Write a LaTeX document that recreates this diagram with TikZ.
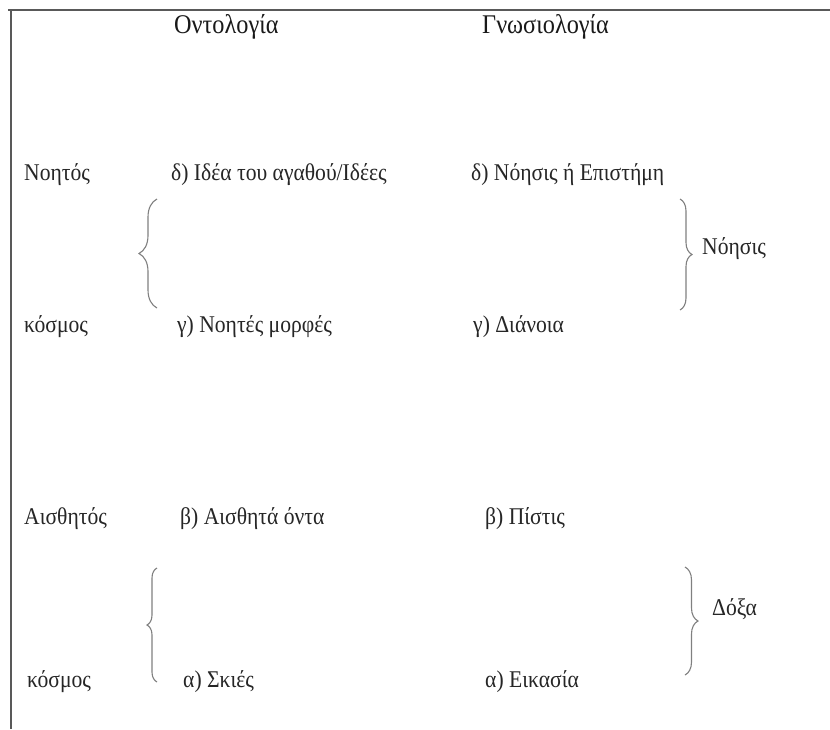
\documentclass[tikz,border=0pt]{standalone}
\usepackage{fontspec}
\setmainfont[FakeStretch=0.9]{Liberation Serif}
\usetikzlibrary{decorations.pathreplacing}
\begin{document}
\begin{tikzpicture}[x=1pt,y=1pt,
  lbl/.style={anchor=west,inner sep=0pt,text height=0.7em,text depth=0.22em,font=\fontsize{24}{28}\selectfont,text=black!85},
  head/.style={lbl,font=\fontsize{27}{31}\selectfont,text=black!90},
  frameline/.style={draw=black!65,line width=2pt},
  bracel/.style={draw=black!50,line width=1.1pt,decorate,decoration={brace,amplitude=#1}}]
\useasboundingbox[fill=white] (0,0) rectangle (830,-729);
% frame
\coordinate (tl) at (11,-10);
\coordinate (tr) at (830,-10);
\coordinate (bl) at (11,-729);
\coordinate (tl0) at (8,-10);
\draw[frameline] (tl0) -- (tr);
\draw[frameline] (tl) -- (bl);
% headings
\node[head] (ont) at (174,-31) {Οντολογία};
\node[head] (gno) at (482,-31) {Γνωσιολογία};
% upper section
\node[lbl] (noitos) at (24,-178) {Νοητός};
\node[lbl] (idea) at (171,-178) {δ) Ιδέα του αγαθού/Ιδέες};
\node[lbl] (noisis1) at (471,-178) {δ) Νόησις ή Επιστήμη};
\node[lbl] (kosmos1) at (24,-330) {κόσμος};
\node[lbl] (morfes) at (177,-330) {γ) Νοητές μορφές};
\node[lbl] (dianoia) at (473,-330) {γ) Διάνοια};
\node[lbl] (noisis) at (702,-252) {Νόησις};
% lower section
\node[lbl] (aisthitos) at (24,-522) {Αισθητός};
\node[lbl] (onta) at (180,-522) {β) Αισθητά όντα};
\node[lbl] (pistis) at (485,-522) {β) Πίστις};
\node[lbl] (kosmos2) at (27,-685) {κόσμος};
\node[lbl] (skies) at (183,-685) {α) Σκιές};
\node[lbl] (eikasia) at (485,-685) {α) Εικασία};
\node[lbl] (doxa) at (712,-613) {Δόξα};
% braces
\coordinate (b1b) at (157,-308);
\coordinate (b1t) at (157,-199);
\draw[bracel=18pt] (b1b) -- (b1t);
\coordinate (b2t) at (680,-199);
\coordinate (b2b) at (680,-310);
\draw[bracel=12pt] (b2t) -- (b2b);
\coordinate (b3b) at (157,-682);
\coordinate (b3t) at (157,-568);
\draw[bracel=10pt] (b3b) -- (b3t);
\coordinate (b4t) at (685,-567);
\coordinate (b4b) at (685,-675);
\draw[bracel=13pt] (b4t) -- (b4b);
\end{tikzpicture}
\end{document}
